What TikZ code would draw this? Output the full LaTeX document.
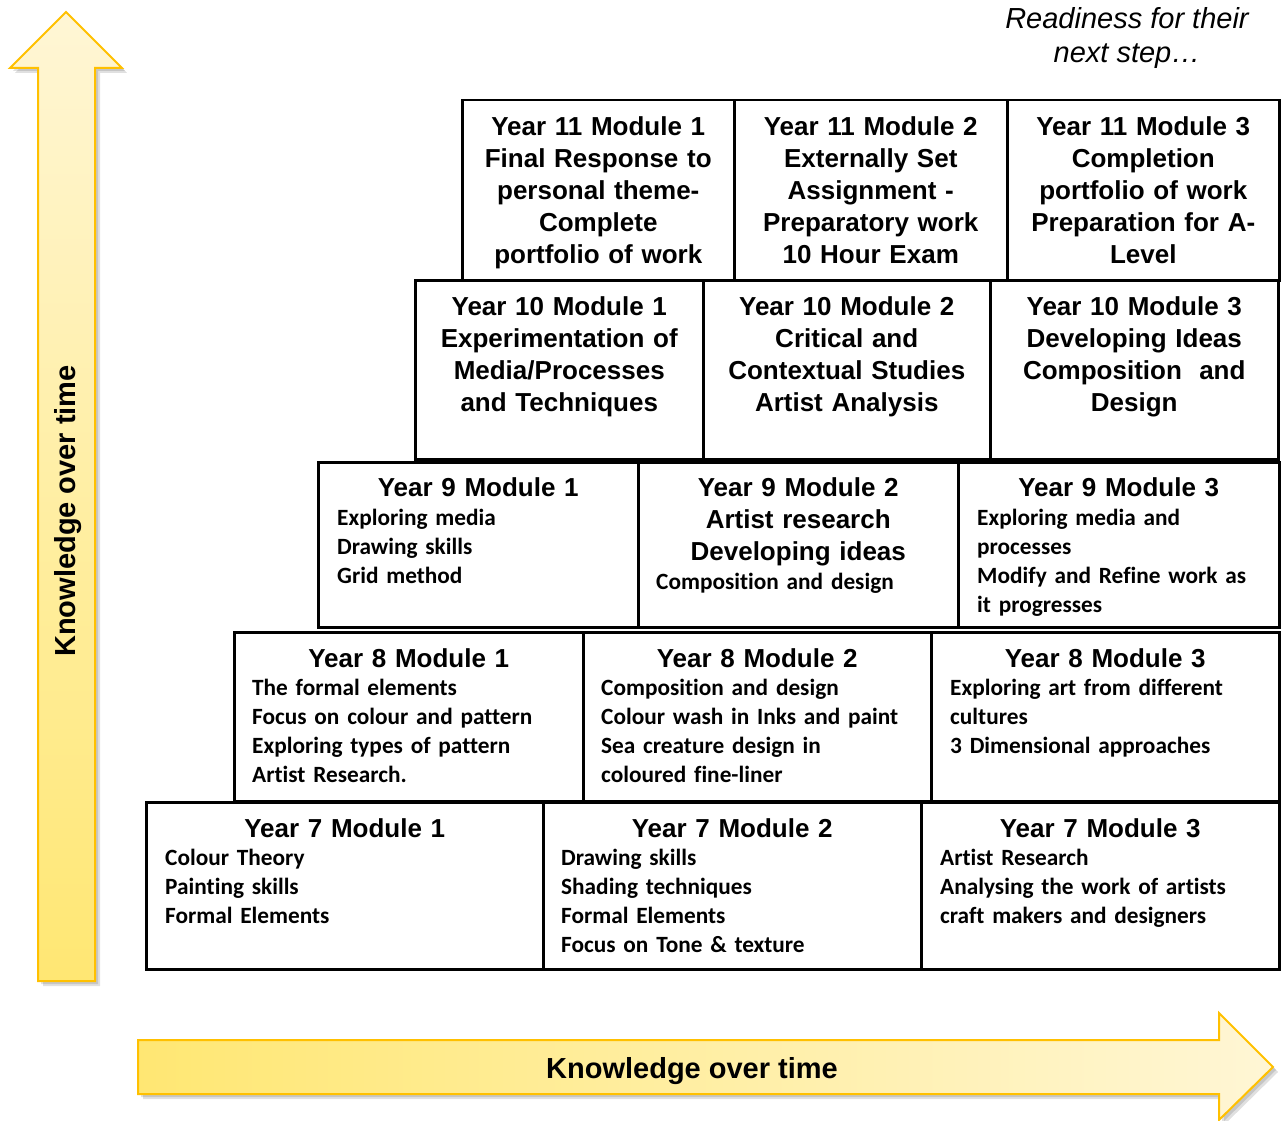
\documentclass[tikz,border=0pt]{standalone}
\usepackage{fontspec}
\newfontfamily\arialfont{Liberation Sans}
\newfontfamily\calibrifont[Ligatures=NoCommon]{Carlito}

\definecolor{arrowedge}{HTML}{FFC000}
\definecolor{arrowlight}{HTML}{FFF6D5}
\definecolor{arrowdark}{HTML}{FFE773}

\tikzset{
  cell/.style={draw, line width=2.5pt, anchor=north west, inner sep=0pt},
  heading/.style={font=\arialfont\bfseries\fontsize{26}{32}\selectfont, align=center, anchor=base, inner sep=0pt},
  detail/.style={font=\calibrifont\bfseries\fontsize{23.3}{29}\selectfont, align=left, anchor=base west, inner sep=0pt},
  bigarrow/.style={draw=arrowedge, line width=2pt, line join=miter},
  arrowshadow/.style={fill=black, opacity=0.12},
}

\begin{document}
\begin{tikzpicture}[x=1pt,y=-1pt]
    \useasboundingbox (0,0) rectangle (1283,1121);

    % Outline of the two arrows
    \def\UpArrow{(38,981) -- (38,68) -- (10,68) -- (66,12) -- (122,68) -- (95,68) -- (95,981) -- cycle}
    \def\RightArrow{(138,1040) -- (1219,1040) -- (1219,1013) -- (1273,1067) -- (1219,1120) -- (1219,1094) -- (138,1094) -- cycle}

    % Soft shadows
    \fill[arrowshadow, shift={(5,5)}] \UpArrow;
    \fill[arrowshadow, shift={(3,3)}] \UpArrow;
    \fill[arrowshadow, shift={(5,5)}] \RightArrow;
    \fill[arrowshadow, shift={(3,3)}] \RightArrow;

    % Arrows
    \shade[top color=arrowlight, bottom color=arrowdark] \UpArrow;
    \draw[bigarrow] \UpArrow;
    \shade[left color=arrowdark, right color=arrowlight] \RightArrow;
    \draw[bigarrow] \RightArrow;

    \node[rotate=90, font=\arialfont\bfseries\fontsize{29}{34}\selectfont] (uplabel) at (68,511) {Knowledge over time};
    \node[font=\arialfont\bfseries\fontsize{29}{34}\selectfont] (rightlabel) at (692,1071) {Knowledge over time};

    \node[font=\arialfont\itshape\fontsize{29}{34}\selectfont, align=center] (nextstep) at (1127,38) {Readiness for their\\next step…};

    % Year 11
    \node[cell, minimum width=272pt, minimum height=180pt] (y11a) at (461,99) {};
    \node[cell, minimum width=273pt, minimum height=180pt] (y11b) at (733,99) {};
    \node[cell, minimum width=272pt, minimum height=180pt] (y11c) at (1006,99) {};
    \node[heading, text width=260pt] (y11a-t) at ([yshift=-37pt]y11a.north) {Year 11 Module 1\\Final Response to\\personal theme-\\Complete\\portfolio of work};
    \node[heading, text width=260pt] (y11b-t) at ([yshift=-37pt]y11b.north) {Year 11 Module 2\\Externally Set\\Assignment -\\Preparatory work\\10 Hour Exam};
    \node[heading, text width=265pt] (y11c-t) at ([yshift=-37pt]y11c.north) {Year 11 Module 3\\Completion\\portfolio of work\\Preparation for A-\\Level};

    % Year 10
    \node[cell, minimum width=288pt, minimum height=179pt] (y10a) at (414,279) {};
    \node[cell, minimum width=287pt, minimum height=179pt] (y10b) at (702,279) {};
    \node[cell, minimum width=288pt, minimum height=179pt] (y10c) at (989,279) {};
    \node[heading, text width=276pt] (y10a-t) at ([yshift=-36pt]y10a.north) {Year 10 Module 1\\Experimentation of\\Media/Processes\\and Techniques};
    \node[heading, text width=276pt] (y10b-t) at ([yshift=-36pt]y10b.north) {Year 10 Module 2\\Critical and\\Contextual Studies\\Artist Analysis};
    \node[heading, text width=276pt] (y10c-t) at ([yshift=-36pt]y10c.north) {Year 10 Module 3\\Developing Ideas\\Composition\ \ and\\Design};

    % Year 9
    \node[cell, minimum width=320pt, minimum height=165pt] (y9a) at (317,461) {};
    \node[cell, minimum width=320pt, minimum height=165pt] (y9b) at (637,461) {};
    \node[cell, minimum width=321pt, minimum height=165pt] (y9c) at (957,461) {};
    \node[heading, text width=300pt] (y9a-t) at ([yshift=-35pt]y9a.north) {Year 9 Module 1};
    \node[heading, text width=300pt] (y9b-t) at ([yshift=-35pt]y9b.north) {Year 9 Module 2\\Artist research\\Developing ideas};
    \node[heading, text width=300pt] (y9c-t) at ([yshift=-35pt]y9c.north) {Year 9 Module 3};
    \node[detail, text width=295pt] (y9a-d) at ([xshift=20pt,yshift=-64pt]y9a.north west) {Exploring media\\Drawing skills\\Grid method};
    \node[detail, text width=295pt] (y9b-d) at ([xshift=19pt,yshift=-128pt]y9b.north west) {Composition and design};
    \node[detail, text width=295pt] (y9c-d) at ([xshift=20pt,yshift=-64pt]y9c.north west) {Exploring media and\\processes\\Modify and Refine work as\\it progresses};

    % Year 8
    \node[cell, minimum width=349pt, minimum height=169pt] (y8a) at (233,631) {};
    \node[cell, minimum width=348pt, minimum height=169pt] (y8b) at (582,631) {};
    \node[cell, minimum width=348pt, minimum height=169pt] (y8c) at (930,631) {};
    \node[heading, text width=330pt] (y8a-t) at ([yshift=-36pt]y8a.north) {Year 8 Module 1};
    \node[heading, text width=330pt] (y8b-t) at ([yshift=-36pt]y8b.north) {Year 8 Module 2};
    \node[heading, text width=330pt] (y8c-t) at ([yshift=-36pt]y8c.north) {Year 8 Module 3};
    \node[detail, text width=320pt] (y8a-d) at ([xshift=19pt,yshift=-64pt]y8a.north west) {The formal elements\\Focus on colour and pattern\\Exploring types of pattern\\Artist Research.};
    \node[detail, text width=320pt] (y8b-d) at ([xshift=19pt,yshift=-64pt]y8b.north west) {Composition and design\\Colour wash in Inks and paint\\Sea creature design in\\coloured fine-liner};
    \node[detail, text width=320pt] (y8c-d) at ([xshift=20pt,yshift=-64pt]y8c.north west) {Exploring art from different\\cultures\\3 Dimensional approaches};

    % Year 7
    \node[cell, minimum width=397pt, minimum height=167pt] (y7a) at (145,801) {};
    \node[cell, minimum width=378pt, minimum height=167pt] (y7b) at (542,801) {};
    \node[cell, minimum width=358pt, minimum height=167pt] (y7c) at (920,801) {};
    \node[heading, text width=340pt] (y7a-t) at ([yshift=-36pt]y7a.north) {Year 7 Module 1};
    \node[heading, text width=340pt] (y7b-t) at ([yshift=-36pt]y7b.north) {Year 7 Module 2};
    \node[heading, text width=340pt] (y7c-t) at ([yshift=-36pt]y7c.north) {Year 7 Module 3};
    \node[detail, text width=360pt] (y7a-d) at ([xshift=20pt,yshift=-64pt]y7a.north west) {Colour Theory\\Painting skills\\Formal Elements};
    \node[detail, text width=340pt] (y7b-d) at ([xshift=19pt,yshift=-64pt]y7b.north west) {Drawing skills\\Shading techniques\\Formal Elements\\Focus on Tone \& texture};
    \node[detail, text width=330pt] (y7c-d) at ([xshift=20pt,yshift=-64pt]y7c.north west) {Artist Research\\Analysing the work of artists\\craft makers and designers};
\end{tikzpicture}
\end{document}
